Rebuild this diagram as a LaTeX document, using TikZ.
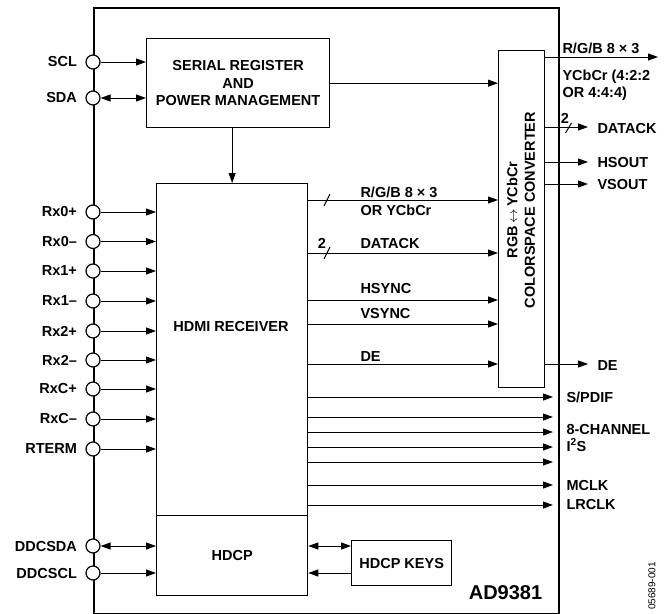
\documentclass[tikz,border=0pt]{standalone}
\usepackage{fontspec}
\setmainfont{Liberation Sans}
\usetikzlibrary{arrows.meta}

\begin{document}
\begin{tikzpicture}[x=1pt,y=-1pt,line width=1pt,>={Triangle[length=10pt,width=7pt]},
  every node/.style={font=\bfseries\fontsize{14.5}{17.5}\selectfont,inner sep=0pt},
  blk/.style={draw,line width=1.3pt,anchor=north west},
  pad/.style={circle,draw,fill=white,minimum size=14pt,line width=1.2pt},
  padlbl/.style={label distance=8pt}]
  \useasboundingbox (0,0) rectangle (671,613);
  % chip outline
  \node[draw,line width=1.8pt,minimum width=465pt,minimum height=606pt,anchor=north west] (chip) at (93,7) {};
  % blocks
  \node[blk,minimum width=183pt,minimum height=89pt,align=center] (serial) at (146,38) {SERIAL REGISTER\\AND\\POWER MANAGEMENT};
  \node[blk,minimum width=151pt,minimum height=332pt] (hdmi) at (156,183) {};
  \node (hdmitxt) at (231,327) {HDMI RECEIVER};
  \node[blk,minimum width=151pt,minimum height=80pt] (hdcp) at (156,515) {HDCP};
  \node[blk,minimum width=100pt,minimum height=45pt] (keys) at (351,540) {HDCP KEYS};
  \node[blk,minimum width=46pt,minimum height=337pt] (csc) at (498,50) {};
  \node[rotate=90,align=center] (csctxt) at (521,210) {RGB\,$\leftrightarrow$\,YCbCr\\COLORSPACE CONVERTER};
  \node[font=\bfseries\fontsize{20}{24}\selectfont,anchor=base] (partno) at (505.5,599) {AD9381};
  \node[rotate=90,font=\fontsize{10}{12}\selectfont] (figno) at (652,586) {05689-001};
  % serial port
  \node[pad,label={[padlbl]left:SCL}] (scl) at (93,62) {};
  \node[pad,label={[padlbl]left:SDA}] (sda) at (93,98) {};
  \draw[->] (scl) -- (scl -| serial.west);
  \draw[<->] (sda) -- (sda -| serial.west);
  \draw[->] (serial.south -| hdmi.north) -- (hdmi.north);
  \draw[->] (serial.east) -- (serial.east -| csc.west);
  % tmds inputs
  \foreach \n/\t/\y in {rx0p/Rx0+/212,rx0m/Rx0–/241.5,rx1p/Rx1+/271,rx1m/Rx1–/301,rx2p/Rx2+/331,
      rx2m/Rx2–/360,rxcp/RxC+/389,rxcm/RxC–/419,rterm/RTERM/449} {
    \node[pad,label={[padlbl]left:\t}] (\n) at (93,\y) {};
    \draw[->] (\n) -- (\n -| hdmi.west);
  }
  % ddc and keys
  \node[pad,label={[padlbl]left:DDCSDA}] (ddcsda) at (93,546) {};
  \node[pad,label={[padlbl]left:DDCSCL}] (ddcscl) at (93,573) {};
  \draw[<->] (ddcsda) -- (ddcsda -| hdcp.west);
  \draw[->] (ddcscl) -- (ddcscl -| hdcp.west);
  \draw[<->] (ddcsda -| hdcp.east) -- (ddcsda -| keys.west);
  \draw[<-] (ddcscl -| hdcp.east) -- (ddcscl -| keys.west);
  % video to converter
  \foreach \n/\y in {rgb/200,dck/253,hs/300,vs/324,de/364} {
    \coordinate (\n) at (327,\y);
    \draw[->] (\n -| hdmi.east) -- (\n -| csc.west);
  }
  \foreach \n in {rgb,dck} \draw (\n) ++(-3,6) -- ++(6,-12);
  \node (two) at (322,243) {2};
  \node[anchor=base west] (rgblbl) at (360,197) {R/G/B 8 × 3};
  \node[anchor=base west] (ycclbl) at (360,215) {OR YCbCr};
  \node[anchor=base west] (dcklbl) at (360,248) {DATACK};
  \node[anchor=base west] (hslbl) at (360,293) {HSYNC};
  \node[anchor=base west] (vslbl) at (360,318) {VSYNC};
  \node[anchor=base west] (delbl) at (360,361) {DE};
  % converter outputs
  \coordinate (rgbout) at (658,57);
  \draw[->] (rgbout -| csc.east) -- (rgbout);
  \foreach \n/\y in {dckout/127,hsout/162,vsout/184,deout/364} {
    \coordinate (\n) at (588,\y);
    \draw[->] (\n -| csc.east) -- (\n);
  }
  \draw (568.5,128) ++(-3,5) -- ++(6,-10);
  \node (twoout) at (565,118) {2};
  \node[anchor=base west] (rgbolbl) at (562,53) {R/G/B 8 × 3};
  \node[anchor=base west] (yccolbl) at (562,80) {YCbCr (4:2:2};
  \node[anchor=base west] (orolbl) at (562,97) {OR 4:4:4)};
  \node[anchor=base west] (dckolbl) at (597,133) {DATACK};
  \node[anchor=base west] (hsolbl) at (597,167) {HSOUT};
  \node[anchor=base west] (vsolbl) at (597,189) {VSOUT};
  \node[anchor=base west] (deolbl) at (597,370) {DE};
  % audio outputs
  \foreach \n/\y in {a1/397,a2/417,a3/432,a4/447,a5/462,a6/485,a7/505} {
    \coordinate (\n) at (553,\y);
    \draw[->] (\n -| hdmi.east) -- (\n);
  }
  \node[anchor=base west] (spdif) at (566,402) {S/PDIF};
  \node[anchor=base west] (i2sa) at (566,434) {8-CHANNEL};
  \node[anchor=base west] (i2sb) at (566,451) {I\textsuperscript{2}S};
  \node[anchor=base west] (mclk) at (566,490) {MCLK};
  \node[anchor=base west] (lrclk) at (566,509) {LRCLK};
\end{tikzpicture}
\end{document}
